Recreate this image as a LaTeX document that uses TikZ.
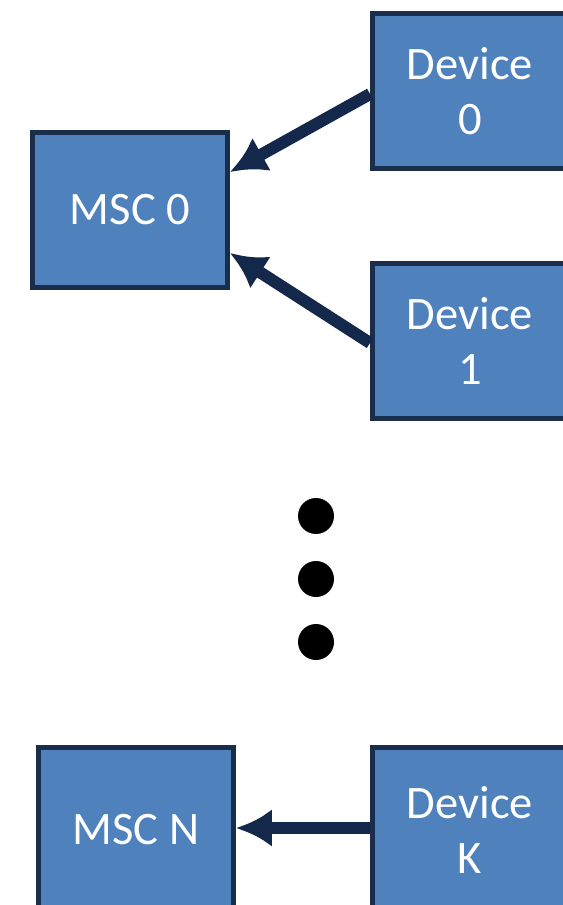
\documentclass[tikz,border=0pt]{standalone}
\usepackage{fontspec}
\setmainfont{Carlito}
\usepackage{xcolor}
\usetikzlibrary{arrows.meta}
\tikzset{>={Latex[width=7.6mm,length=7.2mm]}}
\definecolor{boxblue}{HTML}{4F81BD}
\definecolor{boxedge}{HTML}{1A2E4C}
\definecolor{linknavy}{HTML}{13284A}
\tikzset{
  unit/.style={draw=boxedge, fill=boxblue, line width=0.1cm, minimum width=3.9cm,
    minimum height=3.1cm, text=white, align=center, font=\fontsize{26.5}{31.3}\selectfont},
  link/.style={linknavy, line width=0.24cm, ->}
}

\begin{document}
\begin{tikzpicture}[x=0.02cm, y=-0.02cm]

  \useasboundingbox (0,0) rectangle (563,905);

  \node[unit] (msc0) at (130,210) {MSC 0};
  \node[unit] (dev0) at (470,91) {Device\\0};
  \node[unit] (dev1) at (470,341) {Device\\1};

  \node[unit, minimum height=3.3cm] (mscN) at (136,830) {MSC N};
  \node[unit, minimum height=3.3cm] (devK) at (470,830) {Device\\K};

  % devices report to their MSC
  \draw[link] ([yshift=-0.06cm]dev0.west) -- ([yshift=0.76cm]msc0.east);
  \draw[link] ([yshift=-0.04cm]dev1.west) -- ([yshift=-0.86cm]msc0.east);
  \draw[link] ([yshift=0.04cm]devK.west) -- ([yshift=0.04cm]mscN.east);

  % the dots between
  \foreach \y in {516,579,642}
    \fill[black] (316,\y) circle [radius=0.36cm];

\end{tikzpicture}
\end{document}
